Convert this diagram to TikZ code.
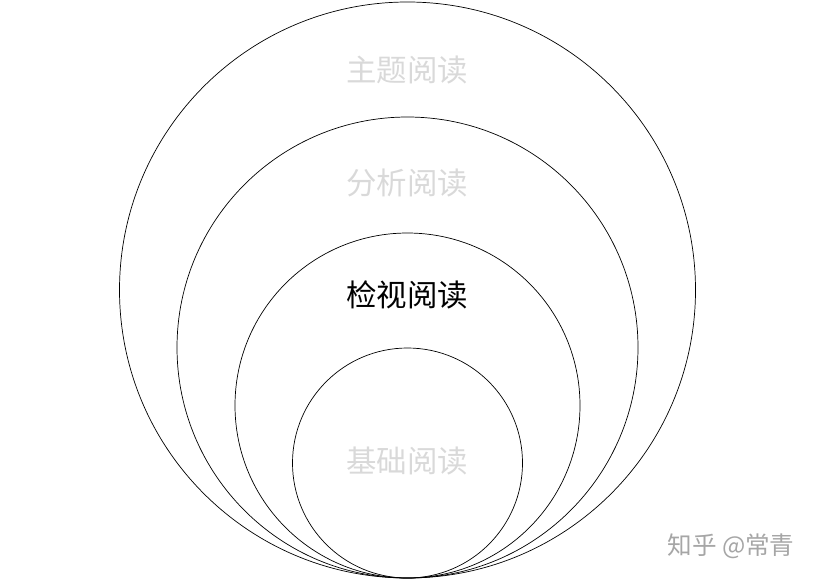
\documentclass[tikz,border=0pt]{standalone}
\usepackage{fontspec}
\newfontfamily\cjk{Noto Sans CJK SC}
\usepackage{xcolor}
\definecolor{fadegray}{HTML}{D9D9D9}
\definecolor{markgray}{HTML}{A6A6A6}

\begin{document}
\begin{tikzpicture}[x=0.03cm,y=-0.03cm,
    level/.style={font=\cjk\fontsize{26}{26}\selectfont,fadegray},
    ring/.style={black,line width=0.6pt}]
  \useasboundingbox (0,0) rectangle (815,579);
  % Nested circles, all touching at the bottom
  \draw[ring] (407.5,290) circle[radius=288];
  \draw[ring] (407.5,347.5) circle[radius=230.5];
  \draw[ring] (407.5,405.5) circle[radius=172.5];
  \draw[ring] (407.5,463) circle[radius=115];
  % Labels
  \node[level] (topic) at (407,70) {主题阅读};
  \node[level] (analytic) at (407,183) {分析阅读};
  \node[level,black] (inspect) at (407,295) {检视阅读};
  \node[level] (basic) at (407,461) {基础阅读};
  % Watermark
  \node[font=\cjk\fontsize{21}{21}\selectfont,markgray] (mark) at (731,546) {知乎 @常青};
\end{tikzpicture}
\end{document}
